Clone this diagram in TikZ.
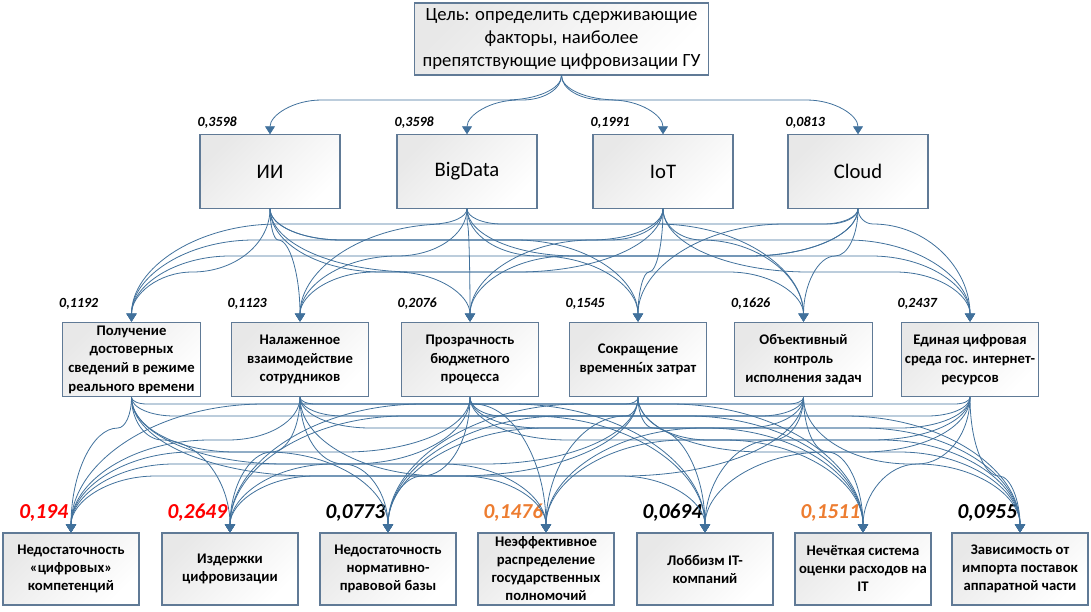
\documentclass[tikz,border=0pt]{standalone}
\usepackage{fontspec}
\setmainfont{Carlito}
\usetikzlibrary{arrows.meta,calc}
\definecolor{linkblue}{RGB}{65,113,156}
\definecolor{boxline}{RGB}{96,122,150}
\definecolor{wred}{RGB}{255,0,0}
\definecolor{worange}{RGB}{237,125,49}

\begin{document}
\begin{tikzpicture}[
    box/.style={draw=boxline, line width=0.8pt, top color=black!9, bottom color=white,
      shading angle=45, align=center, inner sep=2pt},
    goalbox/.style={box, minimum width=220pt, minimum height=54pt,
      font=\fontsize{14}{17}\selectfont},
    techbox/.style={box, minimum width=105pt, minimum height=55pt,
      font=\fontsize{15.5}{18}\selectfont},
    critbox/.style={box, minimum width=103pt, minimum height=56pt,
      font=\bfseries\fontsize{11}{14}\selectfont},
    factbox/.style={box, minimum width=102pt, minimum height=54pt,
      font=\bfseries\fontsize{11}{13.5}\selectfont},
    link/.style={draw=linkblue, line width=0.6pt, -{Triangle[width=7.5pt,length=6pt]}},
    wsmall/.style={font=\bfseries\itshape\fontsize{10.5}{12}\selectfont, inner sep=0pt},
    wbig/.style={font=\bfseries\itshape\fontsize{16}{18}\selectfont, inner sep=0pt}
  ]
  \begin{scope}[x=0.75pt,y=-0.75pt]
    \useasboundingbox (0,0) rectangle (1091,611);
    \newcommand{\curvelink}[3]{%
      \path[link] let \p1=(#1.south), \p2=(#2.north), \p3=(0,#3),
        \n1={abs(\x2-\x1)}, \n2={\y1-\y3}, \n3={\y3-\y2}, \n4={sign(\x2-\x1)},
        \n5={min(2.3*\n2,\n1/(\n2+\n3)*\n2)}, \n6={min(1.5*\n3,\n1/(\n2+\n3)*\n3)}
      in (\p1) .. controls (\x1,{\y1-0.552*\n2}) and ({\x1+0.448*\n4*\n5},\y3)
        .. ({\x1+\n4*\n5},\y3) -- ({\x2-\n4*\n6},\y3)
        .. controls ({\x2-0.448*\n4*\n6},\y3) and (\x2,{\y2+0.552*\n3}) .. (\p2);}

    % goal
    \node[goalbox] (goal) at (561.5,39)
      {Цель: определить сдерживающие\\факторы, наиболее\\препятствующие цифровизации ГУ};

    % technologies
    \foreach \i/\x/\w/\txt in {1/270/{0,3598}/ИИ, 2/467/{0,3598}/BigData,
      3/663/{0,1991}/IoT, 4/858/{0,0813}/Cloud}
    {
      \node[techbox] (t\i) at (\x,171.5) {\txt};
      \node[wsmall, anchor=south west] at ([shift={(-1.5pt,4.5pt)}]t\i.north west) {\w};
    }

    % criteria
    \foreach \i/\x/\w/\txt in {1/131.5/{0,1192}/{Получение\\достоверных\\сведений в режиме\\реального времени},
      2/300/{0,1123}/{Налаженное\\взаимодействие\\сотрудников},
      3/470/{0,2076}/{Прозрачность\\бюджетного\\процесса},
      4/638/{0,1545}/{Сокращение\\временн\accent"B4 ых затрат},
      5/803.5/{0,1626}/{Объективный\\контроль\\исполнения задач},
      6/970/{0,2437}/{Единая цифровая\\среда гос. интернет-\\ресурсов}}
    {
      \node[critbox] (c\i) at (\x,359.5) {\txt};
      \node[wsmall, anchor=south west] at ([shift={(-2.5pt,9pt)}]c\i.north west) {\w};
    }

    % factors
    \foreach \i/\x/\w/\col/\txt in {1/71/{0,194}/wred/{Недостаточность\\«цифровых»\\компетенций},
      2/230/{0,2649}/wred/{Издержки\\цифровизации},
      3/388/{0,0773}/black/{Недостаточность\\нормативно-\\правовой базы},
      4/546/{0,1476}/worange/{Неэффективное\\распределение\\государственных\\полномочий},
      5/705/{0,0694}/black/{Лоббизм IT-\\компаний},
      6/863/{0,1511}/worange/{Нечёткая система\\оценки расходов на\\IT},
      7/1020/{0,0955}/black/{Зависимость от\\импорта поставок\\аппаратной части}}
    {
      \node[factbox] (f\i) at (\x,569) {\txt};
      \node[wbig, text=\col, anchor=east] at ([shift={(-2pt,15pt)}]f\i.north) {\w};
    }

    % goal to technologies
    \foreach \i in {1,...,4}
      \curvelink{goal}{t\i}{100};

    % technologies to criteria
    \foreach \i in {1,...,4}
      \foreach \j in {1,...,6}
      {
        \pgfmathsetmacro{\lane}{224+16*mod(\i+2*\j,4)}
        \curvelink{t\i}{c\j}{\lane}
      }

    % criteria to factors
    \foreach \i in {1,...,6}
      \foreach \j in {1,...,7}
      {
        \pgfmathsetmacro{\lane}{404+12*mod(\i+\j,7)}
        \curvelink{c\i}{f\j}{\lane}
      }
  \end{scope}
\end{tikzpicture}
\end{document}
